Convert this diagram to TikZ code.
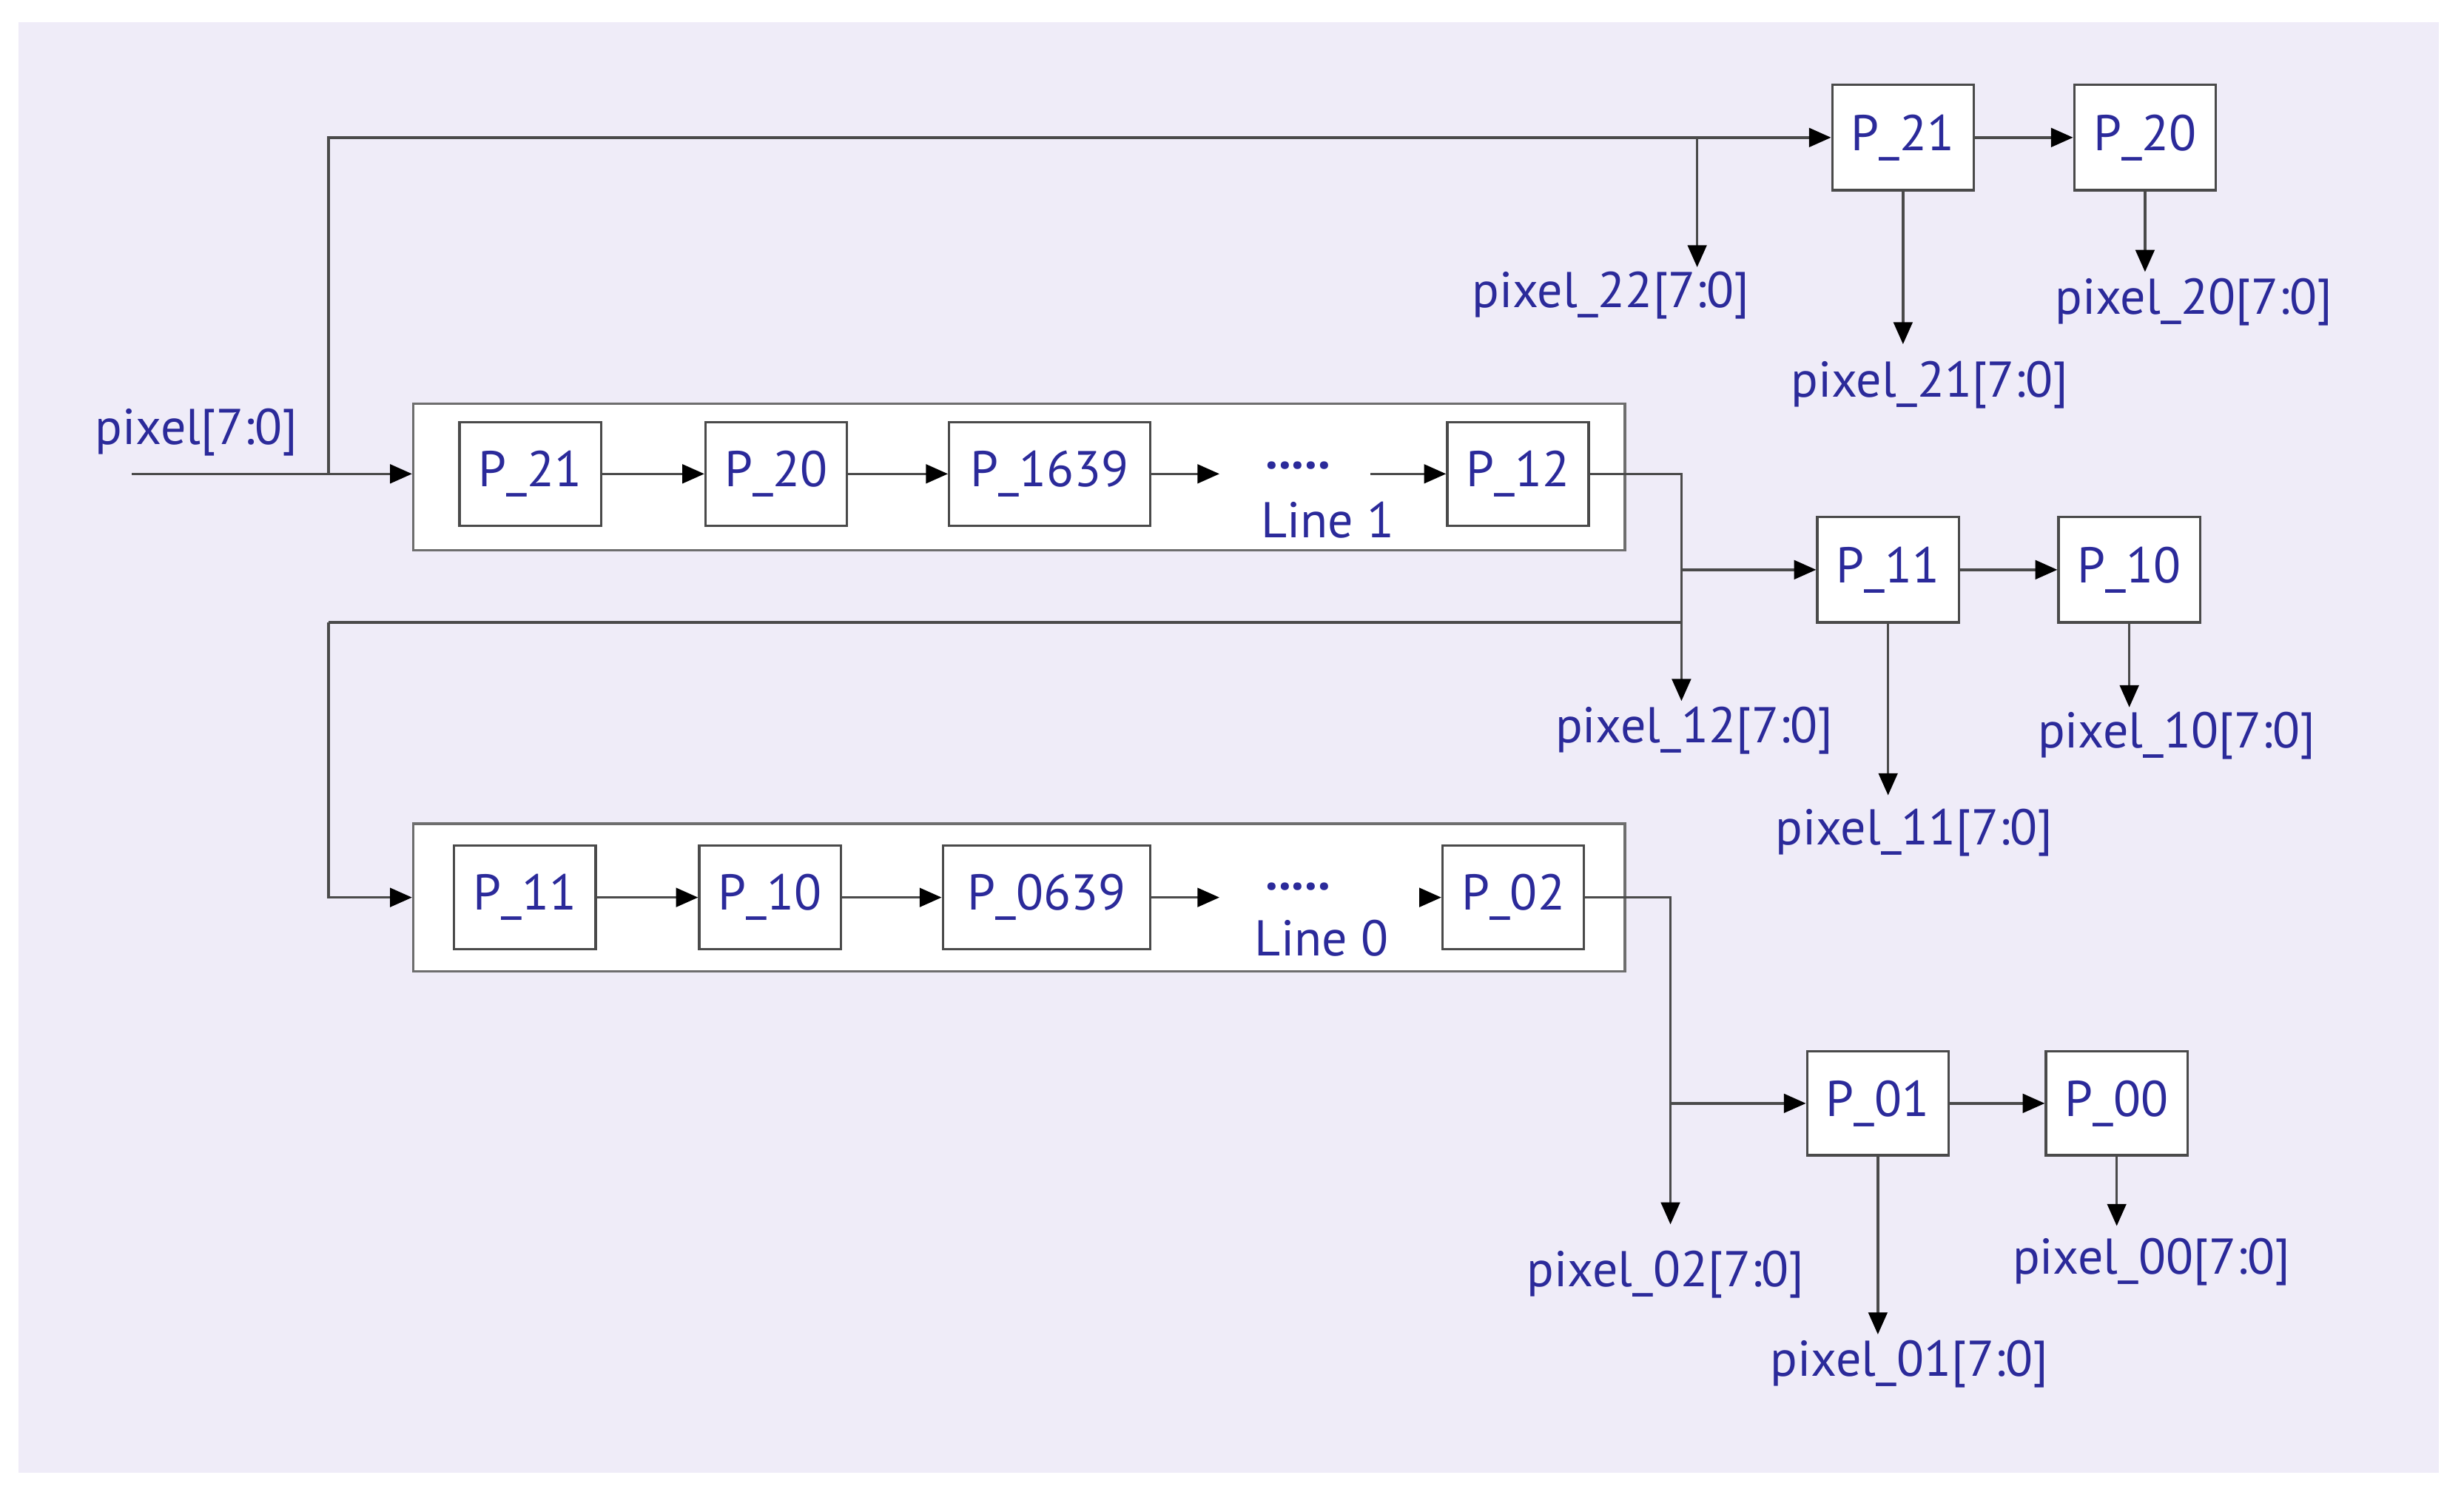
\documentclass[tikz,border=0pt]{standalone}
\usepackage{fontspec}
\setmainfont{PT Sans}
\usetikzlibrary{arrows.meta}
\definecolor{bg}{HTML}{EFECF8}
\definecolor{txt}{HTML}{2B2A9A}
\definecolor{ln}{HTML}{4A4A4A}
\begin{document}
\begin{tikzpicture}[x=1pt,y=-1pt,
  font=\fontsize{32}{34}\selectfont, text=txt,
  reg/.style={draw=ln,line width=1.6pt,fill=white,minimum width=90pt,minimum height=66pt,inner sep=0pt},
  big/.style={draw=ln!80,line width=1.6pt,fill=white},
  w/.style={draw=ln,line width=1.6pt},
  a/.style={w,-{Triangle[length=14pt,width=12pt,color=black]}},
  lab/.style={inner sep=0pt}]
\useasboundingbox (0,0) rectangle (1568,949);
\fill[white] (0,0) rectangle (1568,949);
\fill[bg] (12,14) rectangle (1552,937);
% big boxes
\node[big,minimum width=771pt,minimum height=93pt,inner sep=0pt] (B1) at (648.5,303.5) {};
\node[big,minimum width=771pt,minimum height=94pt,inner sep=0pt] (B0) at (648.5,571) {};
% line 1
\node[reg] (a21) at (337.5,301.5) {P\_21};
\node[reg] (a20) at (494,301.5) {P\_20};
\node[reg,minimum width=128pt] (a1639) at (668,301.5) {P\_1639};
\node[reg] (a12) at (966,301.5) {P\_12};
\node[lab] (d1) at (826,296) {\textbf{.....}};
\node[lab] (L1) at (845,331) {Line 1};
\coordinate (d1l) at (776,301.5); \coordinate (d1r) at (872,301.5);
\draw[a] (a21) -- (a20); \draw[a] (a20) -- (a1639);
\draw[a] (a1639.east) -- (d1l); \draw[a] (d1r) -- (a12.west);
% line 0
\node[reg] (b11) at (334,571) {P\_11};
\node[reg] (b10) at (490,571) {P\_10};
\node[reg,minimum width=132pt] (b0639) at (666,571) {P\_0639};
\node[reg] (b02) at (963,571) {P\_02};
\node[lab] (d0) at (826,564) {\textbf{.....}};
\node[lab] (L0) at (841,597) {Line 0};
\coordinate (d0l) at (776,571); \coordinate (d0r) at (904,571);
\draw[a] (b11) -- (b10); \draw[a] (b10) -- (b0639);
\draw[a] (b0639.east) -- (d0l); \draw[a] (d0r) -- (b02.west);
% input
\node[lab] (pin) at (125,275) {pixel[7:0]};
\coordinate (in) at (84,301.5);
\draw[a] (in) -- (B1.west |- in);
% top row
\node[reg,minimum height=67pt] (t21) at (1211,87.5) {P\_21};
\node[reg,minimum height=67pt] (t20) at (1365,87.5) {P\_20};
\draw[a] (209,301.5) -- (209,87.5) -- (t21.west);
\draw[a] (t21) -- (t20);
\node[lab] (p22) at (1025,188) {pixel\_22[7:0]};
\node[lab] (p21) at (1228,245) {pixel\_21[7:0]};
\node[lab] (p20) at (1396,192) {pixel\_20[7:0]};
\draw[a] (1080,87.5) -- (1080,170);
\draw[a] (t21.south) -- (1211,219);
\draw[a] (t20.south) -- (1365,173);
% middle row
\node[reg,minimum height=67pt] (m11) at (1201.5,362.5) {P\_11};
\node[reg,minimum height=67pt] (m10) at (1355,362.5) {P\_10};
\draw[a] (a12.east) -- (1070,301.5) -- (1070,446);
\draw[a] (1070,362.5) -- (m11.west);
\draw[a] (m11) -- (m10);
\draw[w] (1070,396) -- (209,396);
\draw[a] (209,396) -- (209,571) -- (B0.west);
\node[lab] (p12) at (1078,465) {pixel\_12[7:0]};
\node[lab] (p11) at (1218,530) {pixel\_11[7:0]};
\node[lab] (p10) at (1385,468) {pixel\_10[7:0]};
\draw[a] (m11.south) -- (1201.5,506);
\draw[a] (m10.south) -- (1355,450);
% bottom row
\node[reg,minimum height=66pt] (n01) at (1195,702) {P\_01};
\node[reg,minimum height=66pt] (n00) at (1347,702) {P\_00};
\draw[a] (b02.east) -- (1063,571) -- (1063,779);
\draw[a] (1063,702) -- (n01.west);
\draw[a] (n01) -- (n00);
\node[lab] (p02) at (1060,811) {pixel\_02[7:0]};
\node[lab] (p01) at (1215,868) {pixel\_01[7:0]};
\node[lab] (p00) at (1369,803) {pixel\_00[7:0]};
\draw[a] (n01.south) -- (1195,849);
\draw[a] (n00.south) -- (1347,780);
\end{tikzpicture}
\end{document}
